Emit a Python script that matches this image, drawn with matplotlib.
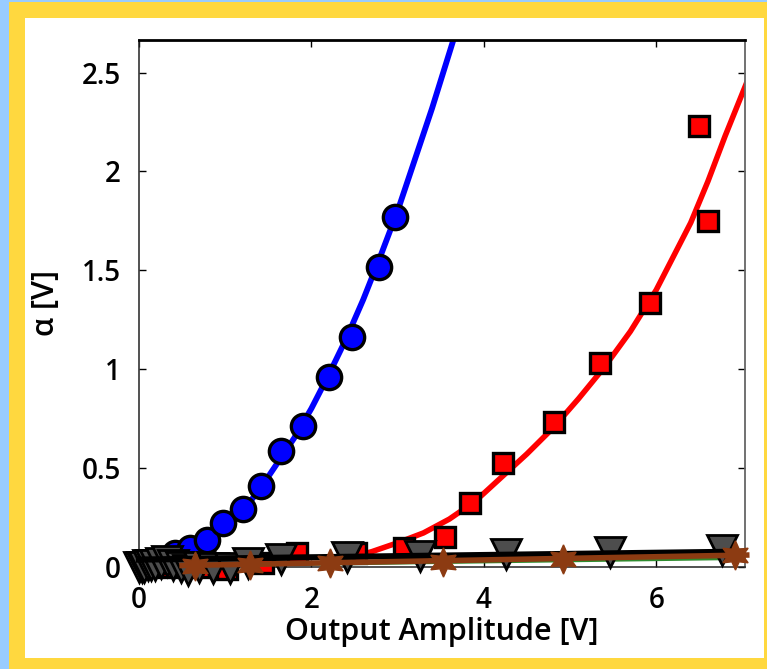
import matplotlib
matplotlib.use("Agg")
import matplotlib.pyplot as plt
from matplotlib.patches import Rectangle

# 数据
circ_x = [0.30, 0.42, 0.59, 0.79, 0.98, 1.21, 1.42, 1.65, 1.90, 2.20, 2.47, 2.78, 2.97]
circ_y = [0.040, 0.067, 0.092, 0.134, 0.222, 0.290, 0.408, 0.586, 0.713, 0.958, 1.164, 1.515, 1.768]

blue_fit_x = [0.35, 0.6, 0.8, 1.0, 1.2, 1.4, 1.6, 1.8, 2.0, 2.2, 2.4, 2.6, 2.8, 3.0, 3.2, 3.4, 3.7]
blue_fit_y = [0.03, 0.08, 0.13, 0.20, 0.28, 0.39, 0.52, 0.65, 0.80, 0.97, 1.15, 1.35, 1.57, 1.80, 2.06, 2.32, 2.74]

sq_x = [0.35, 0.70, 1.02, 1.44, 1.83, 2.52, 3.07, 3.55, 3.84, 4.22, 4.82, 5.35, 5.93, 6.50, 6.60]
sq_y = [0.0, 0.0, -0.015, 0.02, 0.067, 0.067, 0.092, 0.151, 0.320, 0.526, 0.733, 1.032, 1.336, 2.232, 1.751]

red_fit_x = [2.3, 2.7, 3.0, 3.3, 3.6, 3.9, 4.2, 4.5, 4.8, 5.1, 5.4, 5.7, 6.0, 6.2, 6.4, 6.6, 6.8, 7.05]
red_fit_y = [0.03, 0.075, 0.12, 0.17, 0.24, 0.33, 0.45, 0.57, 0.70, 0.85, 1.01, 1.19, 1.40, 1.57, 1.74, 1.95, 2.18, 2.45]

tri_x = [0.0, 0.03, 0.06, 0.10, 0.14, 0.19, 0.25, 0.32, 0.40, 0.49, 0.57, 0.70, 0.86, 1.06, 1.27, 1.65, 2.41, 3.26, 4.26, 5.46, 6.76]
tri_y = [0.0, 0.0, 0.0, 0.01, 0.01, 0.01, 0.02, 0.03, 0.01, 0.0, -0.02, 0.0, -0.01, -0.01, 0.02, 0.04, 0.05, 0.055, 0.065, 0.075, 0.084]

black_x = [0.0, 7.0]
black_y = [0.035, 0.075]

green_x = [0.1, 7.0]
green_y = [0.0, 0.04]

brown_x = [0.5, 7.05]
brown_y = [0.005, 0.058]

star_x = [0.65, 1.29, 2.21, 3.53, 4.92, 6.91]
star_y = [0.005, 0.01, 0.018, 0.025, 0.04, 0.058]

x_ticks = [0, 2, 4, 6]
y_ticks = [0, 0.5, 1, 1.5, 2, 2.5]
y_tick_labels = ["0", "0.5", "1", "1.5", "2", "2.5"]

W, H = 767, 669
plt.rcParams['font.family'] = ['Open Sans', 'DejaVu Sans']

fig = plt.figure(figsize=(W / 100, H / 100), dpi=100)
fig.patch.set_facecolor('#FFD83F')

# 边框：左侧和顶部浅蓝色，内部白色
for r in [Rectangle((0, 0), 9 / W, 1), Rectangle((0, 1 - 2 / H), 1, 2 / H)]:
    r.set(transform=fig.transFigure, facecolor='#99CCFF', edgecolor='none', zorder=-10)
    fig.patches.append(r)
inner = Rectangle((25 / W, 1 - 658 / H), (764 - 25) / W, (658 - 18) / H,
                  transform=fig.transFigure, facecolor='white', edgecolor='none', zorder=-10)
fig.patches.append(inner)

ax = fig.add_axes([139 / W, 1 - 566.5 / H, (745 - 139) / W, (566.5 - 39.5) / H])
ax.set_facecolor('white')

# 拟合曲线
ax.plot(red_fit_x, red_fit_y, color='#FF0000', lw=4, zorder=2)
ax.plot(blue_fit_x, blue_fit_y, color='#0000FF', lw=4.2, zorder=2)

# 数据点
ax.plot(sq_x, sq_y, 's', ms=14.5, mfc='#FF0000', mec='black', mew=2.4, clip_on=False, zorder=3)
ax.plot(circ_x, circ_y, 'o', ms=17.5, mfc='#0000FF', mec='black', mew=2.4, clip_on=False, zorder=3)
ax.plot(green_x, green_y, color='#2e8b2e', lw=2, zorder=3.5, clip_on=False)
ax.plot(tri_x, tri_y, 'v', ms=21, mfc='#4d4d4d', mec='black', mew=2, clip_on=False, zorder=4)
ax.plot(black_x, black_y, color='black', lw=4.5, clip_on=False, zorder=5)
ax.plot(brown_x, brown_y, color='#8c3b12', lw=4, clip_on=False, zorder=6)
ax.plot(star_x, star_y, marker=(6, 1, 0), ls='none', ms=21, mfc='#8c3b12', mec='#8c3b12',
        clip_on=False, zorder=7)

ax.set_xlim(0, 7.03)
ax.set_ylim(0, 2.668)
ax.set_xticks(x_ticks)
ax.set_yticks(y_ticks)
ax.set_yticklabels(y_tick_labels)

ax.tick_params(direction='in', length=5, width=1, top=True, right=True,
               labelsize=20, colors='black')
ax.tick_params(axis='y', pad=13)
ax.tick_params(axis='x', pad=14)
for lab in ax.get_yticklabels() + ax.get_xticklabels():
    lab.set_fontweight('semibold')

for side in ['left', 'bottom']:
    ax.spines[side].set_linewidth(1.1)
    ax.spines[side].set_color('#222222')
ax.spines['right'].set_linewidth(1.3)
ax.spines['right'].set_color('#666666')
ax.spines['top'].set_linewidth(2)
ax.spines['top'].set_color('black')

ax.set_xlabel("Output Amplitude [V]", fontsize=22, fontweight='semibold')
ax.xaxis.set_label_coords(0.5, (566.5 - 632) / 527)
ax.xaxis.label.set_va('center')
ax.set_ylabel("α [V]", fontsize=22, fontweight='semibold')
ax.yaxis.set_label_coords((46 - 139) / 606, 0.5)
ax.yaxis.label.set_va('center')
ax.yaxis.label.set_ha('center')

fig.savefig("out.png", dpi=100, facecolor=fig.get_facecolor())
